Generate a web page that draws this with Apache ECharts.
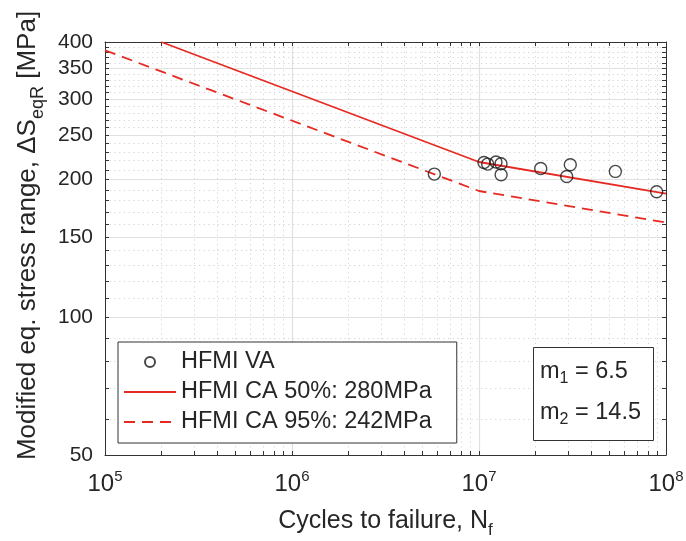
<!DOCTYPE html>
<html><head><meta charset="utf-8">
<script src="https://cdn.jsdelivr.net/npm/echarts@6/dist/echarts.min.js"></script>
<style>html,body{margin:0;padding:0;background:#fff}#c{width:686px;height:541px}</style>
</head><body><div id="c"></div>
<script>
// ---- data ----
const vaCycles = [5.77e6, 1.063e7, 1.113e7, 1.233e7, 1.311e7, 1.313e7, 2.138e7, 2.944e7, 3.077e7, 5.36e7, 8.91e7];
const vaStress = [205.7, 218.1, 216.3, 218.6, 216.7, 205.0, 211.6, 203.2, 215.6, 208.5, 188.2];
const ca50Cycles = [2e5, 1e7, 1e8];
const ca50Stress = [400, 218.6, 186.5];
const ca95Cycles = [1e5, 1e7, 1e8];
const ca95Stress = [383.6, 188.9, 161.2];
const yLabelTicks = [50, 100, 150, 200, 250, 300, 350, 400];
const yAllTicks = [50,60,70,80,90,100,110,120,130,140,150,160,170,180,190,200,210,220,230,240,250,260,270,280,290,300,310,320,330,340,350,360,370,380,390,400];
const xLabelTicks = [1e5, 1e6, 1e7, 1e8];
const xAllTicks = [1e5,2e5,3e5,4e5,5e5,6e5,7e5,8e5,9e5,1e6,2e6,3e6,4e6,5e6,6e6,7e6,8e6,9e6,1e7,2e7,3e7,4e7,5e7,6e7,7e7,8e7,9e7,1e8];
const seriesNames = ['HFMI VA', 'HFMI CA 50%: 280MPa', 'HFMI CA 95%: 242MPa'];
const mTexts = ['1', '6.5', '2', '14.5'];

const FONT = "'Liberation Sans', Arial, Helvetica, sans-serif";
const TXT = '#262626';
const AX = '#333333';
const RED = '#e62a22';
const zip = (a, b) => a.map((v, i) => [v, b[i]]);

const chart = echarts.init(document.getElementById('c'), null, {renderer: 'canvas'});

const tickStyle = {color: AX, width: 1};
const minorGrid = {show: true, lineStyle: {color: '#d4d4d4', width: 1, type: [1.2, 3.5]}};
const majorGrid = {show: true, showMinLine: false, showMaxLine: false, lineStyle: {color: '#e0e0e0', width: 1.2}};

const option = {
  animation: false,
  backgroundColor: '#fff',
  grid: {left: 105, top: 42, width: 561, height: 413, containLabel: false, outerBoundsMode: 'none'},
  title: {
    text: '{a|m}{s|' + mTexts[0] + '}{a| = ' + mTexts[1] + '}\n{a|m}{s|' + mTexts[2] + '}{a| = ' + mTexts[3] + '}',
    left: 533, top: 339,
    padding: [12, 13, 13, 7],
    borderColor: AX, borderWidth: 1, backgroundColor: '#fff',
    textStyle: {
      fontFamily: FONT, fontWeight: 'normal', color: TXT, fontSize: 23.5,
      rich: {
        a: {fontFamily: FONT, fontSize: 23.5, color: TXT, lineHeight: 41},
        s: {fontFamily: FONT, fontSize: 16, color: TXT, verticalAlign: 'bottom', padding: [0, 0, 5, 0]}
      }
    },
    z: 20
  },
  legend: {
    orient: 'vertical', left: 118, top: 342,
    itemWidth: 52, itemHeight: 10, itemGap: 6,
    padding: [8, 25, 9, 5],
    borderColor: AX, borderWidth: 1, backgroundColor: '#fff',
    textStyle: {fontFamily: FONT, fontSize: 23.5, color: TXT},
    data: [
      {name: seriesNames[0]},
      {name: seriesNames[1], itemStyle: {opacity: 0}},
      {name: seriesNames[2], itemStyle: {opacity: 0}}
    ],
    z: 20
  },
  xAxis: [
    {
      type: 'log', logBase: 10, min: 1e5, max: 1e8, position: 'bottom',
      axisLine: {show: true, onZero: false, lineStyle: tickStyle},
      axisTick: {show: true, inside: true, length: 4, customValues: xAllTicks, lineStyle: tickStyle},
      axisLabel: {
        customValues: xLabelTicks, margin: 14, color: TXT,
        formatter: v => '{b|10}{s|' + Math.round(Math.log10(v)) + '}',
        rich: {
          b: {fontFamily: FONT, fontSize: 24, color: TXT, verticalAlign: 'bottom'},
          s: {fontFamily: FONT, fontSize: 15, color: TXT, verticalAlign: 'top', padding: [0, 0, 12, 0]}
        }
      },
      splitLine: minorGrid,
      name: '{a|Cycles to failure, N}{s|f}',
      nameLocation: 'middle', nameGap: 48,
      nameTextStyle: {
        rich: {
          a: {fontFamily: FONT, fontSize: 25, color: TXT, lineHeight: 36},
          s: {fontFamily: FONT, fontSize: 17, color: TXT, verticalAlign: 'bottom'}
        }
      }
    },
    {
      type: 'log', logBase: 10, min: 1e5, max: 1e8, position: 'top',
      axisLine: {show: true, onZero: false, lineStyle: tickStyle},
      axisTick: {show: true, inside: true, length: 4, customValues: xAllTicks, lineStyle: tickStyle},
      axisLabel: {show: false}, splitLine: {show: false}
    },
    {
      type: 'log', logBase: 10, min: 1e5, max: 1e8, position: 'bottom',
      axisLine: {show: false}, axisTick: {show: false}, axisLabel: {show: false},
      splitLine: majorGrid
    }
  ],
  yAxis: [
    {
      type: 'log', logBase: 10, min: 50, max: 400, position: 'left',
      axisLine: {show: true, onZero: false, lineStyle: tickStyle},
      axisTick: {show: true, inside: true, length: 4, customValues: yAllTicks, lineStyle: tickStyle},
      axisLabel: {customValues: yLabelTicks, margin: 12, fontFamily: FONT, fontSize: 21, color: TXT},
      splitLine: minorGrid,
      name: '{a|Modified eq. stress range, ΔS}{s|eqR}{a| [MPa]}',
      nameLocation: 'middle', nameGap: 58, nameRotate: 90,
      nameTextStyle: {
        padding: [0, 0, 0, 26],
        rich: {
          a: {fontFamily: FONT, fontSize: 26, color: TXT, lineHeight: 38},
          s: {fontFamily: FONT, fontSize: 18, color: TXT, verticalAlign: 'bottom'}
        }
      }
    },
    {
      type: 'log', logBase: 10, min: 50, max: 400, position: 'right',
      axisLine: {show: true, onZero: false, lineStyle: tickStyle},
      axisTick: {show: true, inside: true, length: 4, customValues: yAllTicks, lineStyle: tickStyle},
      axisLabel: {show: false}, splitLine: {show: false}
    },
    {
      type: 'log', logBase: 10, min: 50, max: 400, position: 'left',
      axisLine: {show: false},
      axisTick: {show: false, customValues: yLabelTicks},
      axisLabel: {show: false},
      splitLine: majorGrid
    }
  ],
  series: [
    {
      name: seriesNames[0], type: 'scatter', xAxisIndex: 0, yAxisIndex: 0,
      symbol: 'circle', symbolSize: 12,
      itemStyle: {color: 'rgba(255,255,255,0)', borderColor: '#1a1a1a', borderWidth: 1.4},
      data: zip(vaCycles, vaStress), z: 5
    },
    {
      name: seriesNames[1], type: 'line', xAxisIndex: 0, yAxisIndex: 0,
      symbol: 'none', showSymbol: false,
      lineStyle: {color: RED, width: 1.8}, itemStyle: {color: RED},
      data: zip(ca50Cycles, ca50Stress), z: 4
    },
    {
      name: seriesNames[2], type: 'line', xAxisIndex: 0, yAxisIndex: 0,
      symbol: 'none', showSymbol: false,
      lineStyle: {color: RED, width: 1.8, type: [11, 7]}, itemStyle: {color: RED},
      data: zip(ca95Cycles, ca95Stress), z: 4
    }
  ]
};
chart.setOption(option);
</script>
</body></html>
